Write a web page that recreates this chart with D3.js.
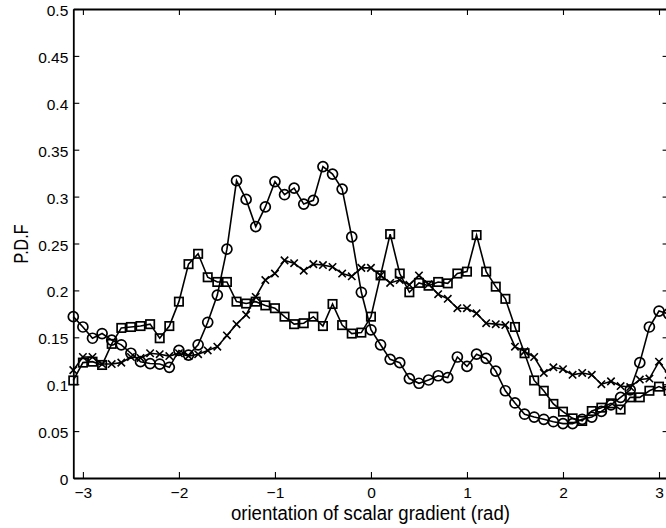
<!DOCTYPE html>
<html>
<head>
<meta charset="utf-8">
<script src="https://cdn.jsdelivr.net/npm/d3@7/dist/d3.min.js"></script>
<style>
  body { margin: 0; background: #fff; }
  svg { display: block; font-family: "Liberation Sans", Arial, sans-serif; }
</style>
</head>
<body>
<svg width="666" height="528"></svg>
<script>
// orientation angles, one every 0.1 rad from -3.1 to 3.1
var angles = d3.range(-31, 32).map(function(k) { return k / 10; });

// circles series
var circleVals = [
  0.172, 0.161, 0.149, 0.154, 0.147, 0.142, 0.133, 0.124, 0.122, 0.1215,
  0.118, 0.136, 0.131, 0.142, 0.166, 0.195, 0.244, 0.317, 0.297, 0.268,
  0.289, 0.316, 0.302, 0.309, 0.292, 0.296, 0.332, 0.324, 0.308, 0.257,
  0.198, 0.158, 0.142, 0.1265, 0.123, 0.106, 0.101, 0.1045, 0.109, 0.107,
  0.129, 0.119, 0.132, 0.1275, 0.114, 0.093, 0.080, 0.068, 0.065, 0.0626,
  0.060, 0.058, 0.058, 0.0626, 0.065, 0.071, 0.078, 0.086, 0.094, 0.123,
  0.161, 0.178, 0.175
];

// squares series
var squareVals = [
  0.104, 0.123, 0.124, 0.1205, 0.143, 0.160, 0.161, 0.162, 0.164, 0.149,
  0.162, 0.188, 0.228, 0.239, 0.214, 0.209, 0.209, 0.188, 0.186, 0.188,
  0.184, 0.181, 0.172, 0.164, 0.165, 0.172, 0.162, 0.1855, 0.163, 0.154,
  0.155, 0.172, 0.216, 0.260, 0.218, 0.198, 0.208, 0.205, 0.209, 0.2075,
  0.218, 0.220, 0.259, 0.220, 0.204, 0.191, 0.161, 0.133, 0.104, 0.093,
  0.079, 0.0707, 0.0636, 0.0608, 0.0714, 0.075, 0.0796, 0.073, 0.086, 0.086,
  0.093, 0.0974, 0.093
];

// crosses series
var crossVals = [
  0.115, 0.129, 0.129, 0.1215, 0.1215, 0.123, 0.129, 0.128, 0.133, 0.132,
  0.130, 0.133, 0.130, 0.132, 0.136, 0.140, 0.152, 0.164, 0.174, 0.193,
  0.211, 0.218, 0.232, 0.229, 0.221, 0.228, 0.227, 0.225, 0.218, 0.215,
  0.224, 0.224, 0.216, 0.208, 0.211, 0.206, 0.216, 0.2065, 0.196, 0.191,
  0.181, 0.181, 0.1755, 0.165, 0.164, 0.163, 0.140, 0.135, 0.129, 0.112,
  0.118, 0.116, 0.110, 0.112, 0.110, 0.100, 0.103, 0.098, 0.097, 0.105,
  0.106, 0.124, 0.110
];

var xTicks = [-3, -2, -1, 0, 1, 2, 3];
var xTickLabels = ["\u22123", "\u22122", "\u22121", "0", "1", "2", "3"];
var yTicks = [0, 0.05, 0.1, 0.15, 0.2, 0.25, 0.3, 0.35, 0.4, 0.45, 0.5];
var yTickLabels = ["0", "0.05", "0.1", "0.15", "0.2", "0.25", "0.3", "0.35", "0.4", "0.45", "0.5"];

var plotLeft = 73.3, plotRight = 668.6, plotTop = 9, plotBottom = 478;
var tickFont = 15.5;

var svg = d3.select("svg");

var x = d3.scaleLinear().domain([-3.1, 3.1]).range([plotLeft, plotRight]);
var y = d3.scaleLinear().domain([0, 0.5]).range([plotBottom, plotTop]);

// axes: labelled bottom/left, bare ticks on top/right, all pointing inward
function styleAxis(g) {
  g.attr("font-size", tickFont).attr("font-family", "Liberation Sans, Arial, sans-serif");
  g.select(".domain").attr("stroke", "#000").attr("stroke-width", 1.8);
  g.selectAll(".tick line").attr("stroke", "#000").attr("stroke-width", 1.1);
  g.selectAll(".tick text").attr("fill", "#000");
}

svg.append("g")
  .attr("transform", "translate(0," + plotBottom + ")")
  .call(d3.axisBottom(x).tickValues(xTicks).tickSizeInner(-6).tickSizeOuter(0)
    .tickPadding(9)
    .tickFormat(function(d, i) { return xTickLabels[i]; }))
  .call(styleAxis);

svg.append("g")
  .attr("transform", "translate(0," + plotTop + ")")
  .call(d3.axisTop(x).tickValues(xTicks).tickSizeInner(-6).tickSizeOuter(0)
    .tickFormat(""))
  .call(styleAxis);

svg.append("g")
  .attr("transform", "translate(" + plotLeft + ",0)")
  .call(d3.axisLeft(y).tickValues(yTicks).tickSizeInner(-6).tickSizeOuter(0)
    .tickPadding(5)
    .tickFormat(function(d, i) { return yTickLabels[i]; }))
  .call(styleAxis)
  .selectAll(".tick text").attr("dy", "0.42em");

svg.append("g")
  .attr("transform", "translate(" + plotRight + ",0)")
  .call(d3.axisRight(y).tickValues(yTicks).tickSizeInner(-6).tickSizeOuter(0)
    .tickFormat(""))
  .call(styleAxis);

// axis labels
svg.append("text")
  .attr("x", (plotLeft + plotRight) / 2 - 0.5)
  .attr("y", 520)
  .attr("text-anchor", "middle")
  .attr("font-size", 20)
  .attr("textLength", 279)
  .attr("lengthAdjust", "spacingAndGlyphs")
  .text("orientation of scalar gradient (rad)");

svg.append("text")
  .attr("transform", "translate(28,244) rotate(-90)")
  .attr("text-anchor", "middle")
  .attr("font-size", 19.5)
  .attr("textLength", 39)
  .attr("lengthAdjust", "spacingAndGlyphs")
  .text("P.D.F");

var line = d3.line()
  .x(function(d) { return x(d.a); })
  .y(function(d) { return y(d.v); });

function pairs(vals) {
  return vals.map(function(v, i) { return { a: angles[i], v: v }; });
}

var series = [
  { vals: squareVals, marker: "square" },
  { vals: crossVals, marker: "cross" },
  { vals: circleVals, marker: "circle" }
];

series.forEach(function(s) {
  var data = pairs(s.vals);
  var g = svg.append("g");

  g.append("path")
    .datum(data)
    .attr("d", line)
    .attr("fill", "none")
    .attr("stroke", "#000")
    .attr("stroke-width", 1.6);

  var m = g.selectAll(".m")
    .data(data)
    .enter();

  if (s.marker == "circle") {
    m.append("circle")
      .attr("cx", function(d) { return x(d.a); })
      .attr("cy", function(d) { return y(d.v); })
      .attr("r", 5)
      .attr("fill", "none")
      .attr("stroke", "#000")
      .attr("stroke-width", 1.7);
  } else if (s.marker == "square") {
    m.append("rect")
      .attr("x", function(d) { return x(d.a) - 4.2; })
      .attr("y", function(d) { return y(d.v) - 4.2; })
      .attr("width", 8.4)
      .attr("height", 8.4)
      .attr("fill", "none")
      .attr("stroke", "#000")
      .attr("stroke-width", 1.7);
  } else {
    m.append("path")
      .attr("transform", function(d) { return "translate(" + x(d.a) + "," + y(d.v) + ")"; })
      .attr("d", "M-3.7,-3.7L3.7,3.7M-3.7,3.7L3.7,-3.7")
      .attr("fill", "none")
      .attr("stroke", "#000")
      .attr("stroke-width", 1.6);
  }
});
</script>
</body>
</html>
